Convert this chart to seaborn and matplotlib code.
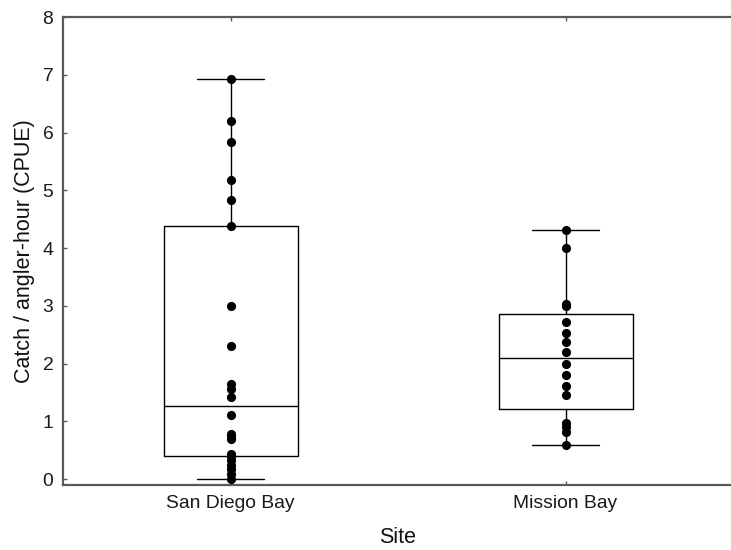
import numpy as np
import pandas as pd
import matplotlib
matplotlib.use("Agg")
import matplotlib.pyplot as plt
import seaborn as sns

# Catch per angler-hour recorded at each site
sites = ["San Diego Bay", "Mission Bay"]
san_diego_cpue = [0.00, 0.09, 0.17, 0.25, 0.33, 0.41, 0.43, 0.70, 0.74, 0.79, 1.11,
                  1.43, 1.56, 1.65, 2.30, 3.00, 4.38, 4.83, 5.18, 5.83, 6.20, 6.93]
mission_bay_cpue = [0.60, 0.82, 0.90, 0.98, 1.45, 1.61, 1.80, 2.00,
                    2.20, 2.37, 2.53, 2.72, 3.00, 3.04, 4.00, 4.32]
y_ticks = [0, 1, 2, 3, 4, 5, 6, 7, 8]

df = pd.DataFrame({
    "Site": [sites[0]] * len(san_diego_cpue) + [sites[1]] * len(mission_bay_cpue),
    "CPUE": san_diego_cpue + mission_bay_cpue,
})


def hinge_stats(values, label):
    """Median, Tukey hinges (medians of the two halves) and min/max whiskers."""
    v = np.sort(np.asarray(values, dtype=float))
    n = len(v)
    half = n // 2
    lower = v[:half]
    upper = v[n - half:]
    return {
        "label": label,
        "med": float(np.median(v)),
        "q1": float(np.median(lower)),
        "q3": float(np.median(upper)),
        "whislo": float(v.min()),
        "whishi": float(v.max()),
        "fliers": [],
    }


sns.set_style("ticks")
plt.rcParams["font.family"] = ["Liberation Sans", "DejaVu Sans"]

fig = plt.figure(figsize=(7.31, 5.50), dpi=100)
ax = fig.add_axes([63 / 731, 65 / 550, 670 / 731, 468 / 550])

stats = [hinge_stats(df.loc[df.Site == s, "CPUE"], s) for s in sites]
line = dict(color="black", linewidth=1.0)
ax.bxp(stats, positions=[0, 1], widths=0.4, capwidths=0.2, showfliers=False,
       manage_ticks=False, boxprops=line, whiskerprops=line, capprops=line,
       medianprops=line, zorder=2)

sns.stripplot(data=df, x="Site", y="CPUE", order=sites, jitter=False,
              color="black", size=6.6, linewidth=0, zorder=3, ax=ax)

ax.set_xlim(-0.5, 1.5)
ax.set_ylim(-0.1, 8)
ax.set_yticks(y_ticks)
ax.set_yticklabels([str(t) for t in y_ticks])
ax.set_xlabel("Site", fontsize=15.5, labelpad=11, color="#111111")
ax.set_ylabel("Catch / angler-hour (CPUE)", fontsize=15.5, labelpad=5, color="#111111")

spine_color = "#5a5a5a"
for side in ["left", "top", "bottom"]:
    ax.spines[side].set_visible(True)
    ax.spines[side].set_color(spine_color)
    ax.spines[side].set_linewidth(1.6)
ax.spines["right"].set_visible(False)

ax.tick_params(axis="both", direction="in", length=3, width=1,
               colors=spine_color, labelcolor="#1a1a1a", labelsize=13.9, pad=7)
ax.tick_params(axis="x", top=True)

fig.savefig("out.png", dpi=100)
